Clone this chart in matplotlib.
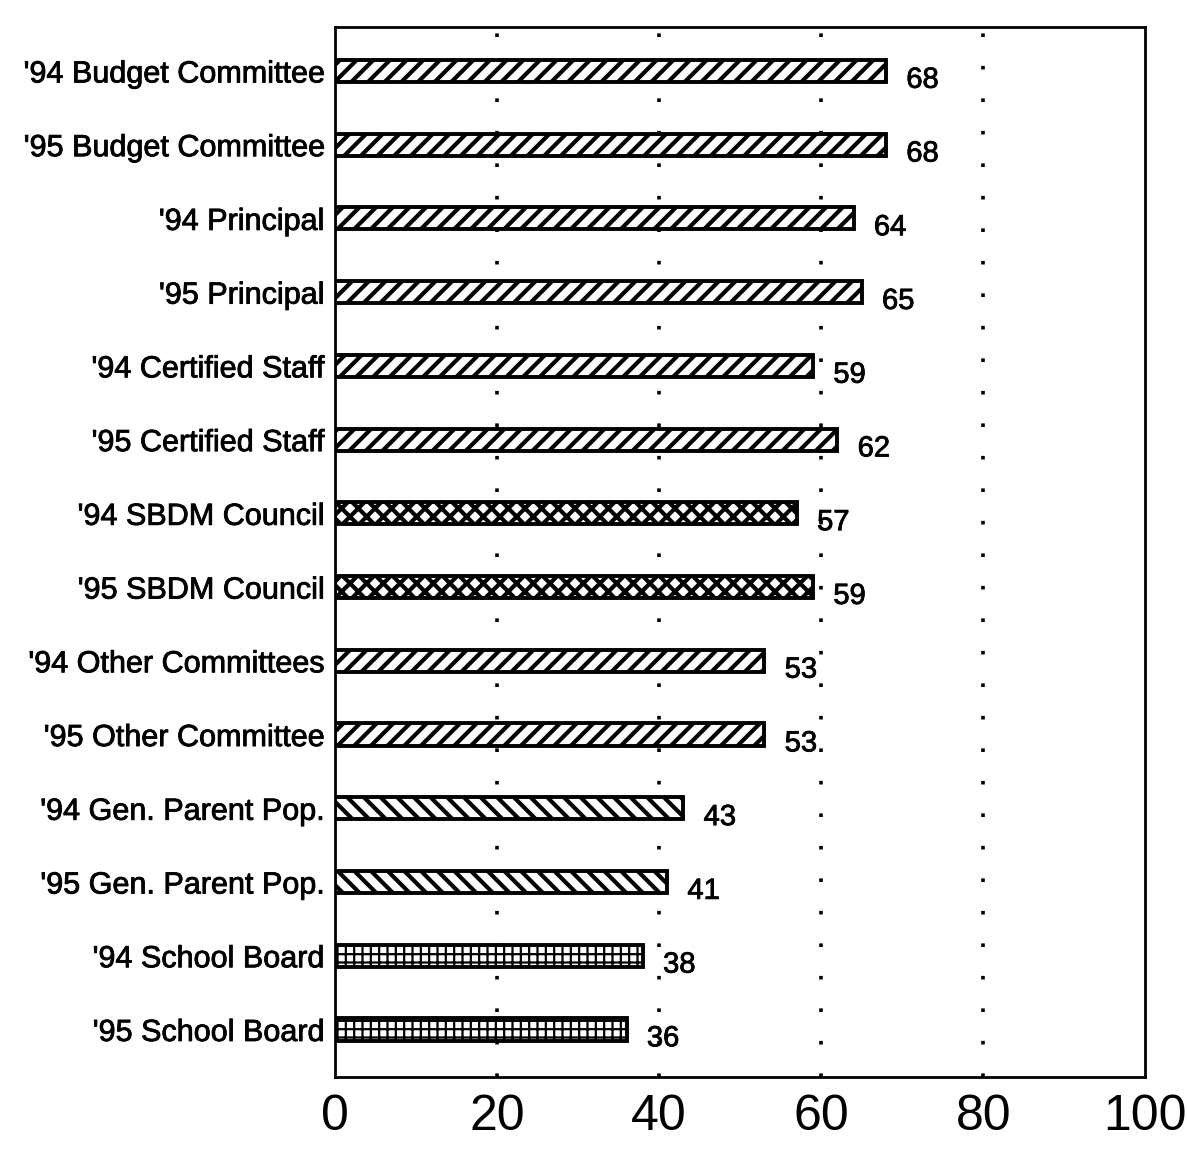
import matplotlib
matplotlib.use("Agg")
import matplotlib.pyplot as plt
import matplotlib.patheffects as pe

plt.rcParams['font.family'] = ['Liberation Sans', 'DejaVu Sans']
plt.rcParams['hatch.linewidth'] = 3.0

categories = ["'94 Budget Committee", "'95 Budget Committee", "'94 Principal",
              "'95 Principal", "'94 Certified Staff", "'95 Certified Staff",
              "'94 SBDM Council", "'95 SBDM Council", "'94 Other Committees",
              "'95 Other Committee", "'94 Gen. Parent Pop.", "'95 Gen. Parent Pop.",
              "'94 School Board", "'95 School Board"]
values = [68, 68, 64, 65, 59, 62, 57, 59, 53, 53, 43, 41, 38, 36]
hatches = ["//"] * 6 + ["xx"] * 2 + ["//"] * 2 + ["\\\\"] * 2 + ["++"] * 2
xticks = [0, 20, 40, 60, 80, 100]

heavy = [pe.withStroke(linewidth=0.6, foreground='black')]

fig = plt.figure(figsize=(11.87, 11.61), dpi=100)
ax = fig.add_axes([0.282, 0.072, 0.683, 0.905])

ypos = list(range(len(categories)))
for y, v, h in zip(ypos, values, hatches):
    bars = ax.barh(y, v, height=0.3, color='white', edgecolor='black',
                   linewidth=2.8, hatch=h, zorder=3)
    if h == "++":
        for p in bars:
            try:
                p.set_hatch_linewidth(1.6)
            except AttributeError:
                p.set_hatch("+")
    ax.text(v + 2.5, y + 0.12, str(v), fontsize=21, va='center', ha='left',
            path_effects=heavy)

ax.set_ylim(len(categories) - 0.35, -0.6)
ax.set_xlim(0, 100)
ax.set_yticks(ypos)
ax.set_yticklabels(categories, fontsize=22)
for t in ax.get_yticklabels():
    t.set_path_effects(heavy)
ax.set_xticks(xticks)
ax.set_xticklabels([str(t) for t in xticks], fontsize=36)
ax.tick_params(axis='both', length=0, pad=8)
ax.tick_params(axis='x', pad=12)
for x in xticks[1:-1]:
    ax.axvline(x, color='black', linestyle=(0, (1, 8)), linewidth=2.6, zorder=1)
for s in ax.spines.values():
    s.set_linewidth(2)

fig.savefig("out.png", dpi=100)
